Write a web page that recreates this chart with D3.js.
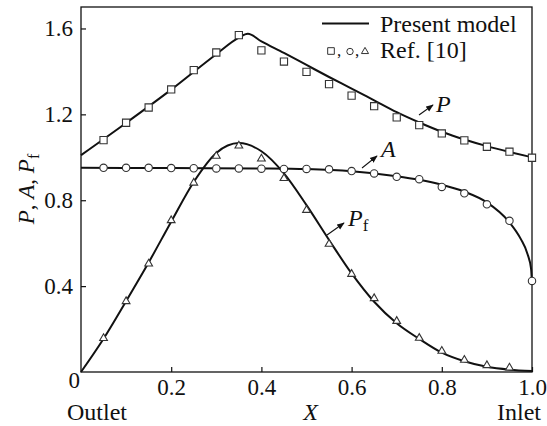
<!DOCTYPE html>
<html>
<head>
<meta charset="utf-8">
<script src="https://cdn.jsdelivr.net/npm/d3@7"></script>
<style>
  body { margin: 0; background: #fff; }
  svg text { font-family: "Liberation Serif", "Tinos", "Times New Roman", "DejaVu Serif", serif; fill: #111; }
  .axis path { display: none; }
  .axis line { stroke: #111; stroke-width: 1.2; }
  .axis text { font-size: 23px; }
</style>
</head>
<body>
<svg id="chart" width="547" height="426"></svg>
<script>
// model curves (Present model)
const pModelX = [0, 0.1, 0.2, 0.3, 0.35, 0.37, 0.4, 0.45, 0.5, 0.55, 0.6, 0.65, 0.7, 0.75, 0.8, 0.85, 0.9, 0.95, 1.0];
const pModelY = [1.01, 1.16, 1.315, 1.48, 1.557, 1.575, 1.54, 1.486, 1.43, 1.374, 1.32, 1.265, 1.21, 1.162, 1.119, 1.083, 1.052, 1.025, 1.0];

const aModelX = [0, 0.2, 0.4, 0.5, 0.6, 0.7, 0.75, 0.8, 0.85, 0.9, 0.95, 0.975, 0.99, 0.998, 1.0];
const aModelY = [0.951, 0.95, 0.948, 0.945, 0.935, 0.912, 0.895, 0.872, 0.84, 0.79, 0.697, 0.62, 0.55, 0.48, 0.405];

const pfModelX = [0, 0.05, 0.1, 0.15, 0.2, 0.25, 0.3, 0.35, 0.4, 0.45, 0.5, 0.55, 0.6, 0.65, 0.7, 0.75, 0.8, 0.85, 0.9, 0.95, 1.0];
const pfModelY = [0, 0.155, 0.33, 0.51, 0.70, 0.885, 1.02, 1.066, 1.028, 0.925, 0.777, 0.615, 0.459, 0.327, 0.227, 0.154, 0.09, 0.05, 0.024, 0.011, 0.005];

// reference points (Ref. [10])
const refX = [0.05, 0.1, 0.15, 0.2, 0.25, 0.3, 0.35, 0.4, 0.45, 0.5, 0.55, 0.6, 0.65, 0.7, 0.75, 0.8, 0.85, 0.9, 0.95, 1.0];
const pRef = [1.08, 1.161, 1.232, 1.316, 1.406, 1.488, 1.569, 1.498, 1.446, 1.398, 1.341, 1.287, 1.238, 1.186, 1.15, 1.111, 1.079, 1.049, 1.026, 0.998];
const aRef = [0.951, 0.951, 0.951, 0.95, 0.949, 0.948, 0.948, 0.947, 0.946, 0.946, 0.944, 0.936, 0.925, 0.909, 0.898, 0.862, 0.832, 0.781, 0.704, 0.424];
const pfRef = [0.157, 0.329, 0.504, 0.706, 0.881, 1.006, 1.054, 0.993, 0.902, 0.754, 0.596, 0.456, 0.343, 0.237, 0.158, 0.098, 0.056, 0.031, 0.02];

const xTicks = [0.2, 0.4, 0.6, 0.8, 1.0];
const yTicks = [0.4, 0.8, 1.2, 1.6];

const svg = d3.select('#chart');
const margin = { top: 7, left: 81, right: 15, bottom: 54 };
const width = 547, height = 426;

const xScale = d3.scaleLinear().domain([0, 1]).range([margin.left, width - margin.right]);
const yScale = d3.scaleLinear().domain([0, 1.7]).range([height - margin.bottom, margin.top]);

// arrow head
svg.append('defs').append('marker')
    .attr('id', 'arrow')
    .attr('viewBox', '0 0 10 10')
    .attr('refX', 9).attr('refY', 5)
    .attr('markerWidth', 7).attr('markerHeight', 7)
    .attr('orient', 'auto')
    .append('path')
    .attr('d', 'M0,1 L10,5 L0,9 Z')
    .attr('fill', '#111');

// curves
const line = d3.line()
    .x(d => xScale(d[0]))
    .y(d => yScale(d[1]))
    .curve(d3.curveMonotoneX);

const models = [
    d3.zip(pModelX, pModelY),
    d3.zip(aModelX, aModelY),
    d3.zip(pfModelX, pfModelY)
];
models.forEach(m => {
    svg.append('path')
        .attr('d', line(m))
        .attr('fill', 'none')
        .attr('stroke', '#111')
        .attr('stroke-width', 2);
});

// frame
svg.append('rect')
    .attr('x', xScale(0)).attr('y', yScale(1.7))
    .attr('width', xScale(1) - xScale(0))
    .attr('height', yScale(0) - yScale(1.7))
    .attr('fill', 'none')
    .attr('stroke', '#111')
    .attr('stroke-width', 1.3);

// axes
const xAxis = d3.axisBottom(xScale)
    .tickValues(xTicks)
    .tickFormat(d3.format('.1f'))
    .tickSizeInner(-5).tickSizeOuter(0).tickPadding(7);
const yAxis = d3.axisLeft(yScale)
    .tickValues(yTicks)
    .tickFormat(d3.format('.1f'))
    .tickSizeInner(-5).tickSizeOuter(0).tickPadding(8);

const xg = svg.append('g').attr('class', 'axis')
    .attr('transform', `translate(0, ${yScale(0)})`)
    .call(xAxis);
const yg = svg.append('g').attr('class', 'axis')
    .attr('transform', `translate(${xScale(0)}, 0)`)
    .call(yAxis);
xg.attr('font-family', null).attr('font-size', null);
yg.attr('font-family', null).attr('font-size', null);

// origin label
svg.append('text')
    .attr('x', xScale(0) - 1).attr('y', yScale(0) + 16)
    .attr('text-anchor', 'end')
    .attr('font-size', 23)
    .text('0');

// reference markers
const mStroke = '#333';
const sq = d3.symbol().type(d3.symbolSquare).size(52);
const tri = d3.symbol().type(d3.symbolTriangle).size(26);

svg.append('g').selectAll('path')
    .data(d3.zip(refX, pRef))
    .join('path')
    .attr('d', sq)
    .attr('transform', d => `translate(${xScale(d[0])}, ${yScale(d[1])})`)
    .attr('fill', '#fff').attr('stroke', mStroke).attr('stroke-width', 1.1);

svg.append('g').selectAll('circle')
    .data(d3.zip(refX, aRef))
    .join('circle')
    .attr('cx', d => xScale(d[0]))
    .attr('cy', d => yScale(d[1]))
    .attr('r', 3.7)
    .attr('fill', '#fff').attr('stroke', mStroke).attr('stroke-width', 1.1);

svg.append('g').selectAll('path')
    .data(d3.zip(refX, pfRef))
    .join('path')
    .attr('d', tri)
    .attr('transform', d => `translate(${xScale(d[0])}, ${yScale(d[1])})`)
    .attr('fill', '#fff').attr('stroke', mStroke).attr('stroke-width', 1.1);

// axis titles
svg.append('text')
    .attr('x', xScale(0.5) + 4).attr('y', 420)
    .attr('text-anchor', 'middle')
    .attr('font-size', 24)
    .attr('font-style', 'italic')
    .text('X');
svg.append('text')
    .attr('x', 67).attr('y', 420)
    .attr('font-size', 24)
    .text('Outlet');
svg.append('text')
    .attr('x', 541).attr('y', 420)
    .attr('text-anchor', 'end')
    .attr('font-size', 24)
    .text('Inlet');

const yLabel = svg.append('text')
    .attr('transform', 'translate(34, 189) rotate(-90)')
    .attr('text-anchor', 'middle')
    .attr('font-size', 23);
yLabel.append('tspan').attr('font-style', 'italic').text('P');
yLabel.append('tspan').text(', ');
yLabel.append('tspan').attr('font-style', 'italic').text('A');
yLabel.append('tspan').text(', ');
yLabel.append('tspan').attr('font-style', 'italic').text('P');
yLabel.append('tspan').attr('font-size', 16).attr('dy', 5).text('f');

// legend
svg.append('line')
    .attr('x1', 322).attr('x2', 369)
    .attr('y1', 23.5).attr('y2', 23.5)
    .attr('stroke', '#111').attr('stroke-width', 2);
svg.append('text')
    .attr('x', 380).attr('y', 32)
    .attr('font-size', 24)
    .text('Present model');

svg.append('path')
    .attr('d', d3.symbol().type(d3.symbolSquare).size(44)())
    .attr('transform', 'translate(331, 51)')
    .attr('fill', '#fff').attr('stroke', mStroke).attr('stroke-width', 1);
svg.append('text').attr('x', 337).attr('y', 56).attr('font-size', 17).text(',');
svg.append('circle')
    .attr('cx', 350).attr('cy', 51.5).attr('r', 3.2)
    .attr('fill', '#fff').attr('stroke', mStroke).attr('stroke-width', 1);
svg.append('text').attr('x', 355).attr('y', 56).attr('font-size', 17).text(',');
svg.append('path')
    .attr('d', d3.symbol().type(d3.symbolTriangle).size(22)())
    .attr('transform', 'translate(365, 51.5)')
    .attr('fill', '#fff').attr('stroke', mStroke).attr('stroke-width', 1);
svg.append('text')
    .attr('x', 380).attr('y', 58)
    .attr('font-size', 24)
    .text('Ref. [10]');

// annotations
const notes = [
    { from: [419, 115], to: [433, 105] },
    { from: [362, 168], to: [377, 156] },
    { from: [327, 235], to: [344, 223] }
];
notes.forEach(n => {
    svg.append('line')
        .attr('x1', n.from[0]).attr('y1', n.from[1])
        .attr('x2', n.to[0]).attr('y2', n.to[1])
        .attr('stroke', '#111').attr('stroke-width', 1.1)
        .attr('marker-end', 'url(#arrow)');
});
svg.append('text').attr('x', 436).attr('y', 112)
    .attr('font-size', 24).attr('font-style', 'italic').text('P');
svg.append('text').attr('x', 381).attr('y', 157)
    .attr('font-size', 24).attr('font-style', 'italic').text('A');
const pfLabel = svg.append('text').attr('x', 348).attr('y', 226).attr('font-size', 24);
pfLabel.append('tspan').attr('font-style', 'italic').text('P');
pfLabel.append('tspan').attr('font-size', 17).attr('dy', 5).text('f');
</script>
</body>
</html>
